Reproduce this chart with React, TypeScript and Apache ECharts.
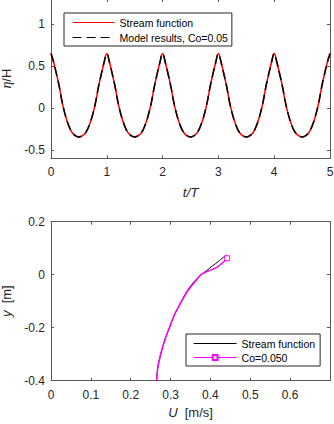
import { useEffect, useRef } from "react";
import * as echarts from "echarts";

// ---- top panel: surface elevation eta/H vs t/T (sampled every 0.05 T) ----
const streamEta = [
  0.65, 0.54, 0.4, 0.25, 0.07, -0.07, -0.18, -0.26, -0.31, -0.335, -0.345, -0.335, -0.31, -0.26, -0.18, -0.07, 0.07, 0.25, 0.4, 0.54,
  0.65, 0.54, 0.4, 0.25, 0.07, -0.07, -0.18, -0.26, -0.31, -0.335, -0.345, -0.335, -0.31, -0.26, -0.18, -0.07, 0.07, 0.25, 0.4, 0.54,
  0.65, 0.54, 0.4, 0.25, 0.07, -0.07, -0.18, -0.26, -0.31, -0.335, -0.345, -0.335, -0.31, -0.26, -0.18, -0.07, 0.07, 0.25, 0.4, 0.54,
  0.65, 0.54, 0.4, 0.25, 0.07, -0.07, -0.18, -0.26, -0.31, -0.335, -0.345, -0.335, -0.31, -0.26, -0.18, -0.07, 0.07, 0.25, 0.4, 0.54,
  0.65, 0.54, 0.4, 0.25, 0.07, -0.07, -0.18, -0.26, -0.31, -0.335, -0.345, -0.335, -0.31, -0.26, -0.18, -0.07, 0.07, 0.25, 0.4, 0.54,
  0.65,
];
const modelEta = [
  0.65, 0.54, 0.4, 0.25, 0.07, -0.07, -0.18, -0.26, -0.31, -0.335, -0.345, -0.335, -0.31, -0.26, -0.18, -0.07, 0.07, 0.25, 0.4, 0.54,
  0.65, 0.54, 0.4, 0.25, 0.07, -0.07, -0.18, -0.26, -0.31, -0.335, -0.345, -0.335, -0.31, -0.26, -0.18, -0.07, 0.07, 0.25, 0.4, 0.54,
  0.65, 0.54, 0.4, 0.25, 0.07, -0.07, -0.18, -0.26, -0.31, -0.335, -0.345, -0.335, -0.31, -0.26, -0.18, -0.07, 0.07, 0.25, 0.4, 0.54,
  0.65, 0.54, 0.4, 0.25, 0.07, -0.07, -0.18, -0.26, -0.31, -0.335, -0.345, -0.335, -0.31, -0.26, -0.18, -0.07, 0.07, 0.25, 0.4, 0.54,
  0.65, 0.54, 0.4, 0.25, 0.07, -0.07, -0.18, -0.26, -0.31, -0.335, -0.345, -0.335, -0.31, -0.26, -0.18, -0.07, 0.07, 0.25, 0.4, 0.54,
  0.65,
];
const timeStep = 0.05;
const topYTicks = [-0.5, 0, 0.5, 1];

// ---- bottom panel: velocity profile ----
const streamU = [0.265, 0.266, 0.268, 0.272, 0.278, 0.287, 0.297, 0.31, 0.324, 0.34, 0.357, 0.373, 0.39, 0.405, 0.42, 0.44];
const streamY = [-0.4, -0.38, -0.35, -0.32, -0.284, -0.24, -0.2, -0.15, -0.11, -0.065, -0.03, -0.005, 0.015, 0.033, 0.05, 0.075];
const coU = [0.265, 0.266, 0.268, 0.272, 0.278, 0.287, 0.297, 0.31, 0.324, 0.34, 0.355, 0.366, 0.372, 0.38, 0.393, 0.405, 0.417, 0.43, 0.442];
const coY = [-0.4, -0.38, -0.35, -0.32, -0.284, -0.24, -0.2, -0.15, -0.11, -0.068, -0.038, -0.018, -0.006, 0.004, 0.013, 0.02, 0.029, 0.044, 0.062];
const bottomXTicks = [0, 0.1, 0.2, 0.3, 0.4, 0.5, 0.6];

const FONT = "'Liberation Sans', Arial, Helvetica, sans-serif";
const AX = "#262626";
const LINE = "#5a5a5a";

function boxAxis(extra: any) {
  return {
    type: "value",
    axisLine: { show: true, onZero: false, lineStyle: { color: LINE, width: 1 } },
    axisTick: { show: true, inside: true, length: 3, lineStyle: { color: LINE } },
    splitLine: { show: false },
    axisLabel: { show: false },
    ...extra,
  };
}

export default function App() {
  const ref = useRef<HTMLDivElement>(null);
  useEffect(() => {
    if (!ref.current) return;
    const chart = echarts.init(ref.current, null, { renderer: "svg" });
    const labelStyle = { show: true, color: AX, fontSize: 12, fontFamily: FONT };
    const topX = { min: 0, max: 5, interval: 1 };
    const topY = { min: -0.6, max: 1.3 };
    const botX = { min: 0, max: 0.7 };
    const botY = { min: -0.4, max: 0.2, interval: 0.2 };
    const hidden = { opacity: 0 };

    const option: any = {
      animation: false,
      backgroundColor: "#fff",
      textStyle: { fontFamily: FONT },
      grid: [
        { left: 51, right: 4, top: -1, height: 159.3, containLabel: false, outerBoundsMode: "none" },
        { left: 51, right: 4, top: 221.7, height: 159, containLabel: false, outerBoundsMode: "none" },
      ],
      xAxis: [
        boxAxis({
          gridIndex: 0,
          position: "bottom",
          ...topX,
          axisLabel: { ...labelStyle, margin: 8 },
          name: "{i|t/T}",
          nameLocation: "middle",
          nameGap: 27,
          nameTextStyle: {
            color: AX,
            fontSize: 13,
            rich: { i: { fontStyle: "italic", fontSize: 13.5, color: AX, fontFamily: FONT } },
          },
        }),
        boxAxis({ gridIndex: 0, position: "top", ...topX }),
        boxAxis({
          gridIndex: 1,
          position: "bottom",
          ...botX,
          axisLabel: { ...labelStyle, margin: 8, customValues: bottomXTicks },
          axisTick: { show: true, inside: true, length: 3, lineStyle: { color: LINE }, customValues: bottomXTicks },
          name: "{i|U}  [m/s]",
          nameLocation: "middle",
          nameGap: 25,
          nameTextStyle: {
            color: AX,
            fontSize: 13,
            fontFamily: FONT,
            rich: { i: { fontStyle: "italic", fontSize: 13, color: AX, fontFamily: FONT } },
          },
        }),
        boxAxis({
          gridIndex: 1,
          position: "top",
          ...botX,
          axisTick: { show: true, inside: true, length: 3, lineStyle: { color: LINE }, customValues: bottomXTicks },
        }),
      ],
      yAxis: [
        boxAxis({
          gridIndex: 0,
          position: "left",
          ...topY,
          axisLabel: { ...labelStyle, margin: 6, customValues: topYTicks },
          axisTick: { show: true, inside: true, length: 3, lineStyle: { color: LINE }, customValues: topYTicks },
          name: "{g|η}/H",
          nameLocation: "middle",
          nameGap: 32,
          nameTextStyle: {
            color: AX,
            fontSize: 13,
            fontFamily: FONT,
            rich: { g: { fontFamily: "'Liberation Serif', 'DejaVu Serif', serif", fontStyle: "italic", fontSize: 14, color: AX } },
          },
        }),
        boxAxis({
          gridIndex: 0,
          position: "right",
          ...topY,
          axisTick: { show: true, inside: true, length: 3, lineStyle: { color: LINE }, customValues: topYTicks },
        }),
        boxAxis({
          gridIndex: 1,
          position: "left",
          ...botY,
          axisLabel: { ...labelStyle, margin: 6 },
          name: "{i|y}  [m]",
          nameLocation: "middle",
          nameGap: 30,
          nameTextStyle: {
            color: AX,
            fontSize: 13,
            fontFamily: FONT,
            rich: { i: { fontStyle: "italic", fontSize: 13, color: AX, fontFamily: FONT } },
          },
        }),
        boxAxis({ gridIndex: 1, position: "right", ...botY }),
      ],
      legend: [
        {
          data: [
            { name: "Stream function", itemStyle: hidden },
            { name: "Model results, Co=0.05", itemStyle: hidden },
          ],
          left: 64,
          top: 13,
          orient: "vertical",
          itemWidth: 42,
          itemHeight: 6,
          itemGap: 4,
          padding: [4, 4, 3, 8],
          borderColor: AX,
          borderWidth: 1,
          backgroundColor: "#fff",
          selectedMode: false,
          lineStyle: { width: 1.2 },
          textStyle: { fontSize: 10.5, color: "#000", fontFamily: FONT },
        },
        {
          data: [{ name: "U: Stream function", itemStyle: hidden }, { name: "U: Co=0.050" }],
          formatter: (n: string) => n.replace("U: ", ""),
          left: 186,
          top: 334,
          orient: "vertical",
          itemWidth: 43,
          itemHeight: 6,
          itemGap: 3,
          padding: [4, 5, 3, 7],
          borderColor: AX,
          borderWidth: 1,
          backgroundColor: "#fff",
          selectedMode: false,
          lineStyle: { width: 1.2 },
          textStyle: { fontSize: 10.5, color: "#000", fontFamily: FONT },
        },
      ],
      series: [
        {
          name: "Stream function",
          type: "line",
          xAxisIndex: 0,
          yAxisIndex: 0,
          data: streamEta.map((v, i) => [i * timeStep, v]),
          symbol: "none",
          smooth: 0.4,
          lineStyle: { color: "#ff0000", width: 1.5 },
          itemStyle: { color: "#ff0000" },
        },
        {
          name: "Model results, Co=0.05",
          type: "line",
          xAxisIndex: 0,
          yAxisIndex: 0,
          data: modelEta.map((v, i) => [i * timeStep, v]),
          symbol: "none",
          smooth: 0.4,
          lineStyle: { color: "#000000", width: 1.5, type: [9, 5] },
          itemStyle: { color: "#000000" },
        },
        {
          name: "U: Stream function",
          type: "line",
          xAxisIndex: 2,
          yAxisIndex: 2,
          data: streamU.map((u, i) => [u, streamY[i]]),
          symbol: "none",
          smooth: 0.3,
          lineStyle: { color: "#000000", width: 1 },
          itemStyle: { color: "#000000" },
        },
        {
          name: "U: Co=0.050",
          type: "line",
          xAxisIndex: 2,
          yAxisIndex: 2,
          data: coU.map((u, i) =>
            i === coU.length - 1 ? { value: [u, coY[i]] } : { value: [u, coY[i]], symbol: "none" }
          ),
          symbol: "rect",
          symbolSize: 5,
          showSymbol: true,
          smooth: 0.3,
          lineStyle: { color: "#ff00ff", width: 1.5 },
          itemStyle: { color: "#ffffff", borderColor: "#ff00ff", borderWidth: 1 },
        },
      ],
    };
    chart.setOption(option);
    return () => chart.dispose();
  }, []);
  return (
    <div
      ref={ref}
      style={{ position: "fixed", left: 0, top: 0, width: 334, height: 424, background: "#fff" }}
    />
  );
}
